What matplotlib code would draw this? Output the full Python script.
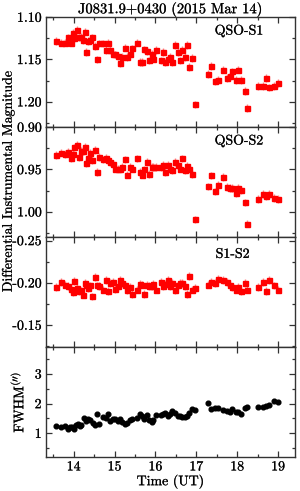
import matplotlib
matplotlib.use("Agg")
import matplotlib.pyplot as plt
import matplotlib.patheffects as pe
from matplotlib.ticker import MultipleLocator, FormatStrFormatter

plt.rcParams['font.family'] = 'serif'
plt.rcParams['font.serif'] = ['cmr10']
plt.rcParams['mathtext.fontset'] = 'cm'
plt.rcParams['axes.unicode_minus'] = False

# time (UT) for the photometric points
t_mag = [13.57, 13.70, 13.79, 13.86, 13.93, 13.98, 14.01, 14.07, 14.13, 14.19,
         14.23, 14.27, 14.31, 14.35, 14.40, 14.45, 14.51, 14.57, 14.63, 14.71,
         14.78, 14.84, 14.89, 14.96, 15.02, 15.08, 15.14, 15.19, 15.26, 15.31,
         15.37, 15.43, 15.55, 15.61, 15.68, 15.73, 15.79, 15.84, 15.91, 15.95,
         16.02, 16.13, 16.18, 16.23, 16.30, 16.36, 16.41, 16.48, 16.54, 16.59,
         16.66, 16.72, 16.77, 16.82, 16.89, 16.96, 17.28, 17.37, 17.45, 17.53,
         17.65, 17.74, 17.82, 17.88, 17.96, 18.02, 18.10, 18.18, 18.25, 18.51,
         18.62, 18.70, 18.78, 18.89, 19.00]

qso_s1 = [1.128, 1.130, 1.130, 1.124, 1.130, 1.119, 1.125, 1.115, 1.124, 1.123,
          1.127, 1.117, 1.141, 1.128, 1.127, 1.124, 1.134, 1.150, 1.131, 1.131,
          1.139, 1.130, 1.139, 1.143, 1.144, 1.146, 1.154, 1.147, 1.136, 1.147,
          1.143, 1.137, 1.130, 1.153, 1.153, 1.138, 1.140, 1.151, 1.143, 1.149,
          1.139, 1.151, 1.141, 1.153, 1.149, 1.147, 1.153, 1.133, 1.141, 1.151,
          1.139, 1.147, 1.133, 1.159, 1.148, 1.203, 1.167, 1.158, 1.176, 1.174,
          1.162, 1.172, 1.170, 1.164, 1.174, 1.162, 1.174, 1.187, 1.207, 1.181,
          1.181, 1.172, 1.183, 1.181, 1.178]

qso_s2 = [0.933, 0.930, 0.932, 0.929, 0.937, 0.932, 0.924, 0.921, 0.935, 0.928,
          0.928, 0.923, 0.942, 0.937, 0.930, 0.939, 0.927, 0.953, 0.935, 0.938,
          0.936, 0.939, 0.941, 0.943, 0.949, 0.949, 0.949, 0.947, 0.938, 0.956,
          0.947, 0.949, 0.937, 0.953, 0.956, 0.950, 0.941, 0.955, 0.947, 0.947,
          0.947, 0.947, 0.945, 0.953, 0.945, 0.950, 0.951, 0.941, 0.945, 0.949,
          0.937, 0.951, 0.946, 0.949, 0.955, 1.009, 0.970, 0.957, 0.976, 0.968,
          0.959, 0.971, 0.972, 0.972, 0.978, 0.972, 0.974, 0.989, 1.014, 0.985,
          0.979, 0.981, 0.979, 0.984, 0.985]

s1_s2 = [-0.195, -0.201, -0.198, -0.196, -0.193, -0.189, -0.202, -0.194, -0.190, -0.191,
         -0.186, -0.200, -0.197, -0.194, -0.197, -0.184, -0.207, -0.197, -0.196, -0.192,
         -0.203, -0.190, -0.200, -0.201, -0.193, -0.196, -0.203, -0.200, -0.198, -0.191,
         -0.195, -0.187, -0.192, -0.199, -0.198, -0.187, -0.198, -0.196, -0.196, -0.199,
         -0.192, -0.201, -0.196, -0.199, -0.203, -0.196, -0.200, -0.191, -0.197, -0.200,
         -0.200, -0.196, -0.187, -0.208, -0.192, -0.194, -0.198, -0.201, -0.200, -0.205,
         -0.203, -0.201, -0.198, -0.195, -0.192, -0.195, -0.190, -0.200, -0.192, -0.195,
         -0.201, -0.190, -0.203, -0.197, -0.192]

# seeing (FWHM, arcsec)
t_fwhm = [13.57, 13.70, 13.79, 13.86, 13.92, 13.97, 14.00, 14.05, 14.11, 14.16,
          14.19, 14.25, 14.30, 14.35, 14.41, 14.46, 14.52, 14.57, 14.63, 14.71,
          14.78, 14.84, 14.89, 14.96, 15.02, 15.08, 15.14, 15.19, 15.26, 15.31,
          15.37, 15.43, 15.55, 15.61, 15.68, 15.73, 15.79, 15.84, 15.91, 15.95,
          16.02, 16.13, 16.18, 16.23, 16.30, 16.36, 16.41, 16.48, 16.54, 16.59,
          16.66, 16.72, 16.77, 16.82, 16.89, 16.96, 17.28, 17.37, 17.45, 17.53,
          17.65, 17.74, 17.82, 17.88, 17.96, 18.02, 18.10, 18.18, 18.25, 18.51,
          18.62, 18.70, 18.78, 18.89, 19.00]

fwhm = [1.24, 1.20, 1.24, 1.13, 1.20, 1.22, 1.13, 1.28, 1.33, 1.24,
        1.28, 1.50, 1.42, 1.47, 1.44, 1.36, 1.28, 1.64, 1.33, 1.56,
        1.50, 1.64, 1.41, 1.47, 1.48, 1.41, 1.48, 1.39, 1.33, 1.36,
        1.44, 1.47, 1.53, 1.64, 1.58, 1.48, 1.61, 1.44, 1.39, 1.44,
        1.61, 1.61, 1.64, 1.69, 1.58, 1.64, 1.76, 1.67, 1.58, 1.58,
        1.56, 1.56, 1.58, 1.69, 1.83, 1.78, 2.03, 1.81, 1.84, 1.84,
        1.78, 1.74, 1.72, 1.83, 1.72, 1.72, 1.64, 1.86, 1.89, 1.87,
        1.87, 1.91, 1.94, 2.09, 2.04]

err_mag = 0.0045
fs = 10
# slightly heavier strokes, like the original's rendering
thick = [pe.withStroke(linewidth=0.2, foreground='#333333')]

fig = plt.figure(figsize=(3.0, 4.91), dpi=100)
gs = fig.add_gridspec(4, 1, left=0.153, right=0.983, top=0.965, bottom=0.069, hspace=0)
axes = [fig.add_subplot(gs[i]) for i in range(4)]

panels = [
    (qso_s1, 'QSO-S1', (1.23, 1.10), [1.10, 1.15, 1.20], (0.775, 0.87)),
    (qso_s2, 'QSO-S2', (1.03, 0.90), [0.90, 0.95, 1.00], (0.775, 0.87)),
    (s1_s2, 'S1-S2', (-0.124, -0.254), [-0.25, -0.20, -0.15], (0.75, 0.84)),
]

for ax, (vals, name, lim, ticks, pos) in zip(axes[:3], panels):
    ax.errorbar(t_mag, vals, yerr=err_mag, fmt='s', color='red', ms=3.6,
                mec='red', ecolor='#ff8888', elinewidth=1.0, capsize=0)
    ax.set_ylim(*lim)
    ax.set_yticks(ticks)
    ax.yaxis.set_minor_locator(MultipleLocator(0.025))
    ax.yaxis.set_major_formatter(FormatStrFormatter('%.2f'))
    ax.text(pos[0], pos[1], name, transform=ax.transAxes, ha='center', va='center', fontsize=fs)

ax4 = axes[3]
ax4.plot(t_fwhm, fwhm, 'o', color='black', ms=3.4)
ax4.set_ylim(0.2, 3.9)
ax4.set_yticks([1, 2, 3])
ax4.yaxis.set_minor_locator(MultipleLocator(0.5))
ax4.set_ylabel(r'FWHM$^{(\prime\prime)}$', fontsize=fs, labelpad=6)
ax4.set_xlabel('Time (UT)', fontsize=fs, labelpad=1)

for ax in axes:
    ax.set_xlim(13.32, 19.41)
    ax.set_xticks([14, 15, 16, 17, 18, 19])
    ax.xaxis.set_minor_locator(MultipleLocator(0.5))
    ax.tick_params(which='both', direction='in', top=True, right=True,
                   labelsize=fs, color='#333333', pad=3)
    ax.tick_params(which='major', length=4, width=0.9)
    ax.tick_params(which='minor', length=2, width=0.9)
    for s in ax.spines.values():
        s.set_linewidth(1.0)
        s.set_color('#333333')
    if ax is not ax4:
        ax.tick_params(labelbottom=False)

axes[0].set_title('J0831.9+0430 (2015 Mar 14)', fontsize=10.5, pad=2)
fig.text(0.028, 0.63, 'Differential Instrumental Magnitude', rotation=90,
         ha='center', va='center', fontsize=fs)

fig.canvas.draw()
for t in fig.findobj(matplotlib.text.Text):
    if t.get_text():
        t.set_path_effects(thick)

fig.savefig('out.png', dpi=100)
